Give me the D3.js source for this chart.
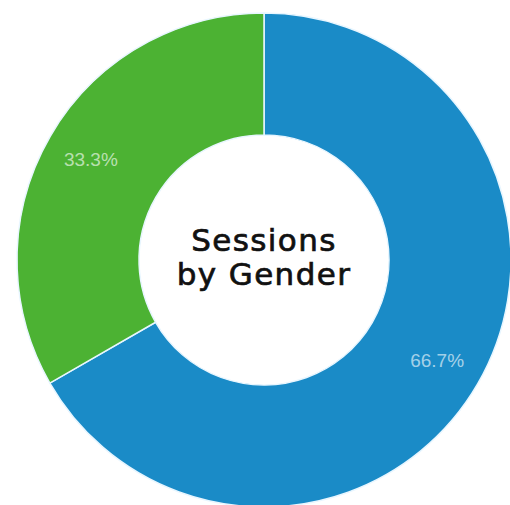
<!DOCTYPE html>
<html>
<head>
<meta charset="utf-8">
<script src="https://cdn.jsdelivr.net/npm/d3@7"></script>
<style>
  html, body { margin: 0; padding: 0; background: #ffffff; }
  svg { display: block; }
</style>
</head>
<body>
<svg id="chart" width="510" height="505"></svg>
<script>
const categories = ["Male", "Female"];
const values = [66.7, 33.3];
const labels = ["66.7%", "33.3%"];
const colors = ["#1a8bc7", "#4cb233"];
const titleLines = ["Sessions", "by Gender"];

const svg = d3.select("#chart");
const cx = 264, cy = 260, outerR = 247, innerR = 125, labelR = 200;
const g = svg.append("g").attr("transform", `translate(${cx},${cy})`);

const pie = d3.pie().sort(null).value(d => d.value);
const data = pie(categories.map((c, i) => ({ cat: c, value: values[i], label: labels[i], color: colors[i] })));
const arc = d3.arc().innerRadius(innerR).outerRadius(outerR);
const labelArc = d3.arc().innerRadius(labelR).outerRadius(labelR);

g.selectAll("path.slice").data(data).join("path")
  .attr("class", "slice")
  .attr("d", arc)
  .attr("fill", d => d.data.color)
  .attr("stroke", "#e8f6ff")
  .attr("stroke-width", 1.5);

g.selectAll("text.pct").data(data).join("text")
  .attr("class", "pct")
  .attr("transform", d => `translate(${labelArc.centroid(d)})`)
  .attr("text-anchor", "middle")
  .attr("dy", "0.35em")
  .attr("font-family", "Liberation Sans, Arial, sans-serif")
  .attr("font-size", 19)
  .attr("fill", "#ffffff")
  .attr("fill-opacity", 0.62)
  .text(d => d.data.label);

g.selectAll("text.title").data(titleLines).join("text")
  .attr("class", "title")
  .attr("text-anchor", "middle")
  .attr("x", 0)
  .attr("y", (d, i) => -9 + i * 34)
  .attr("font-family", "DejaVu Sans, sans-serif")
  .attr("font-size", 31)
  .attr("letter-spacing", 1.4)
  .attr("fill", "#111111")
  .attr("stroke", "#111111")
  .attr("stroke-width", 0.7)
  .text(d => d);
</script>
</body>
</html>
